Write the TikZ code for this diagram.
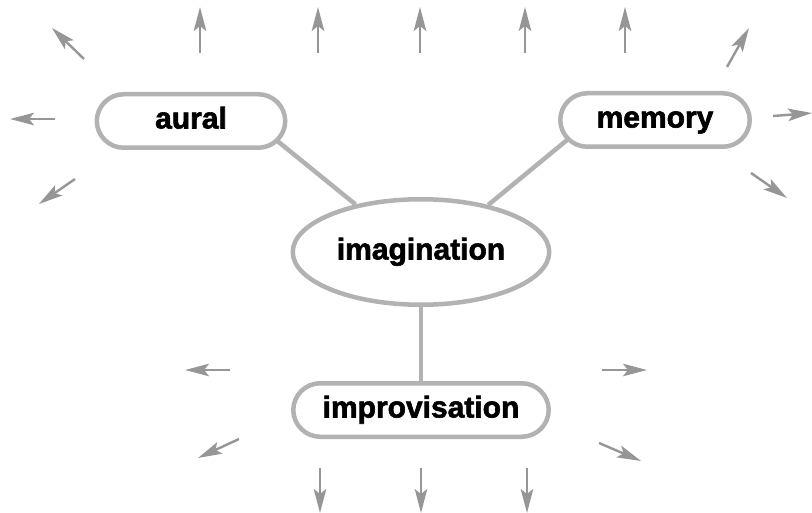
\documentclass[tikz,border=0pt]{standalone}
\usepackage{fontspec}
\setmainfont{Liberation Sans}[BoldFeatures={FakeBold=2}]
\usetikzlibrary{arrows.meta,shapes.geometric,calc,backgrounds}
\definecolor{linegray}{RGB}{178,178,178}
\definecolor{arrowgray}{RGB}{150,150,150}
\tikzset{
  txt/.style={font=\fontsize{30}{33}\selectfont\bfseries, text height=22pt, text depth=7pt},
  pill/.style={txt, draw=linegray, line width=4.5pt, fill=white, rectangle, rounded corners=27pt,
    minimum height=53.5pt, inner sep=0pt},
  oval/.style={txt, draw=linegray, line width=4.5pt, fill=white, ellipse, minimum width=256.5pt,
    minimum height=105.5pt, inner sep=0pt},
  conn/.style={draw=linegray, line width=4.5pt},
  ray/.style={draw=arrowgray, line width=2.4pt, -{Stealth[length=24pt,width=12.5pt,inset=5pt]}}
}
\begin{document}
\begin{tikzpicture}[x=1pt,y=-1pt]
\useasboundingbox (0,0) rectangle (812,513);
\node[pill, minimum width=188.5pt] (aural) at (191,121) {aural};
\node[pill, minimum width=189.5pt] (memory) at (655,120) {memory};
\node[oval] (imag) at (421,252) {imagination};
\node[pill, minimum width=255.5pt] (improv) at (421,410) {improvisation};
\begin{scope}[on background layer]
\draw[conn] ($(aural.east)+(-17.5,14)$) -- (imag.144);
\draw[conn] ($(memory.west)+(14.5,15.5)$) -- (imag.35);
\draw[conn] (imag) -- (improv);
\end{scope}
% top arrows
\foreach \x in {200,318,420,525,625} \draw[ray] (\x,53) -- (\x,7);
\draw[ray] (84,59) -- (52,28);
\draw[ray] (55,119) -- (10,119);
\draw[ray] (75,179) -- (39,204);
\draw[ray] (727,67) -- (749,28);
\draw[ray] (773,116) -- (812,113);
\draw[ray] (751,173) -- (787,198);
% lower arrows
\draw[ray] (230,370) -- (185,370);
\draw[ray] (602,370) -- (647,370);
\draw[ray] (239,439) -- (198,458);
\draw[ray] (599,443) -- (641,461);
\foreach \x in {320,421,527} \draw[ray] (\x,468) -- (\x,513);
\end{tikzpicture}
\end{document}
